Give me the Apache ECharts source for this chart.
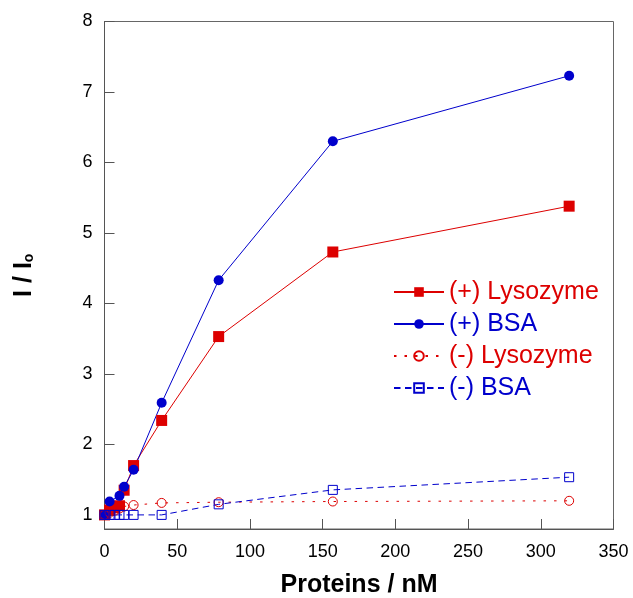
<!DOCTYPE html>
<html>
<head>
<meta charset="utf-8">
<script src="https://cdn.jsdelivr.net/npm/echarts@6/dist/echarts.min.js"></script>
<style>
  html, body { margin: 0; padding: 0; background: #fff; }
  #chart { width: 633px; height: 598px; }
</style>
</head>
<body>
<div id="chart"></div>
<script>
// Protein concentration (nM) for each measurement
const concentrations = [0, 3.5, 7, 10.3, 13.5, 20, 39.3, 78.5, 157, 319.5];
const concentrationsBsaPlus = [0, 3.5, 10.3, 13.5, 20, 39.3, 78.5, 157, 319.5];

// Relative intensity I / I0
const lysozymePlus = [1.0, 1.07, 1.10, 1.13, 1.35, 1.70, 2.34, 3.53, 4.73, 5.38];
const bsaPlus      = [1.0, 1.19, 1.27, 1.40, 1.64, 2.59, 4.33, 6.30, 7.23];
const lysozymeMinus = [1.0, 1.03, 1.06, 1.09, 1.12, 1.14, 1.17, 1.18, 1.19, 1.20];
const bsaMinus      = [1.0, 1.0, 1.0, 1.0, 1.0, 1.0, 1.0, 1.15, 1.355, 1.535];

const seriesNames = ['(+) Lysozyme', '(+) BSA', '(-) Lysozyme', '(-) BSA'];
const yTicks = [1, 2, 3, 4, 5, 6, 7, 8];

const RED = '#dd0000';
const BLUE = '#0000cc';
const FONT = '"Liberation Sans", Arial, sans-serif';

function pairs(xs, ys) {
  return xs.map((x, i) => [x, ys[i]]);
}

const chart = echarts.init(document.getElementById('chart'), null, { renderer: 'canvas' });

chart.setOption({
  animation: false,
  backgroundColor: '#ffffff',
  grid: {
    left: 104.5, right: 19.5, top: 21.5, bottom: 69,
    outerBoundsMode: 'none', containLabel: false,
    show: true, borderColor: '#666', borderWidth: 1, backgroundColor: 'transparent'
  },
  legend: {
    left: 393, top: 279.5, orient: 'vertical', padding: 0,
    itemWidth: 50, itemHeight: 12, itemGap: 7,
    textStyle: { fontFamily: FONT, fontSize: 25 },
    data: [
      { name: seriesNames[0], textStyle: { color: RED } },
      { name: seriesNames[1], textStyle: { color: BLUE } },
      { name: seriesNames[2], textStyle: { color: RED } },
      { name: seriesNames[3], textStyle: { color: BLUE } }
    ]
  },
  xAxis: {
    type: 'value', min: 0, max: 350, interval: 50,
    name: 'Proteins / nM', nameLocation: 'middle', nameGap: 44,
    nameTextStyle: { fontFamily: FONT, fontSize: 25, fontWeight: 'bold', color: '#000' },
    axisLine: { show: true, lineStyle: { color: '#555', width: 1 } },
    axisTick: { show: true, inside: true, length: 10, lineStyle: { color: '#555' } },
    axisLabel: { fontFamily: FONT, fontSize: 18, color: '#000', margin: 14 },
    splitLine: { show: false }
  },
  yAxis: {
    type: 'value', min: 0.8, max: 8,
    name: '{m|I / I}{s|o}', nameLocation: 'middle', nameGap: 68, nameRotate: 90,
    nameTextStyle: {
      fontFamily: FONT, fontSize: 25, fontWeight: 'bold', color: '#000',
      rich: {
        m: { fontFamily: FONT, fontSize: 25, fontWeight: 'bold', color: '#000' },
        s: { fontFamily: FONT, fontSize: 14, fontWeight: 'bold', color: '#000', verticalAlign: 'bottom', padding: [10, 0, 0, 0] }
      }
    },
    axisLine: { show: true, lineStyle: { color: '#555', width: 1 } },
    axisTick: { show: true, inside: true, length: 10, customValues: yTicks, lineStyle: { color: '#555' } },
    axisLabel: { fontFamily: FONT, fontSize: 18, color: '#000', margin: 12, customValues: yTicks },
    splitLine: { show: false }
  },
  series: [
    {
      name: seriesNames[0], type: 'line', clip: false,
      data: pairs(concentrations, lysozymePlus),
      symbol: 'rect', symbolSize: 11,
      itemStyle: { color: RED },
      lineStyle: { color: RED, width: 1 }
    },
    {
      name: seriesNames[1], type: 'line', clip: false,
      data: pairs(concentrationsBsaPlus, bsaPlus),
      symbol: 'circle', symbolSize: 10,
      itemStyle: { color: BLUE },
      lineStyle: { color: BLUE, width: 1 }
    },
    {
      name: seriesNames[2], type: 'line', clip: false,
      data: pairs(concentrations, lysozymeMinus),
      symbol: 'circle', symbolSize: 9,
      itemStyle: { color: 'rgba(255,255,255,0)', borderColor: RED, borderWidth: 1 },
      lineStyle: { color: RED, width: 1, type: [2.5, 8] }
    },
    {
      name: seriesNames[3], type: 'line', clip: false,
      data: pairs(concentrations, bsaMinus),
      symbol: 'rect', symbolSize: 9,
      itemStyle: { color: 'rgba(255,255,255,0)', borderColor: BLUE, borderWidth: 1 },
      lineStyle: { color: BLUE, width: 1, type: [6.5, 4.5] }
    }
  ]
});
</script>
</body>
</html>
